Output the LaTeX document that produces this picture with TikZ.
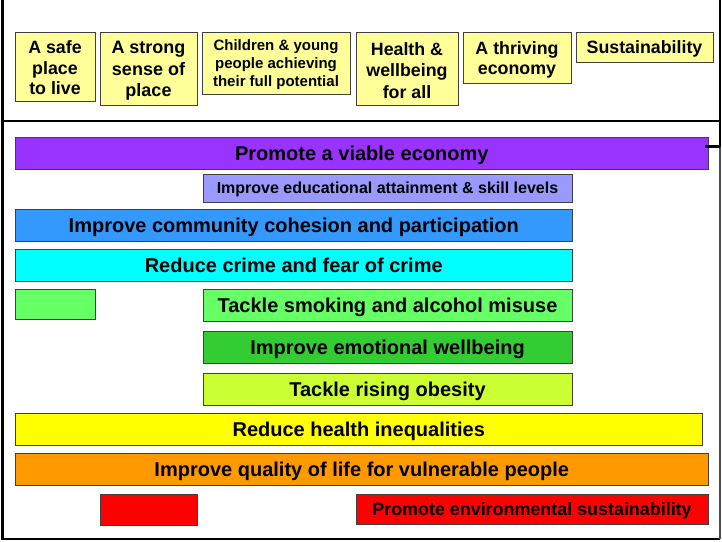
\documentclass[tikz,border=0pt]{standalone}
\usepackage{fontspec}
\setmainfont{Liberation Sans}
\begin{document}
\begin{tikzpicture}[x=1pt,y=-1pt,
  box/.style={draw=black!75, line width=1pt, inner sep=0pt, outer sep=0pt, font=\bfseries},
  topbox/.style={box, fill=cpale},
  toptext/.style={inner sep=0pt, align=center, font=\bfseries\fontsize{17.8}{20.5}\selectfont},
  barbox/.style={box, text height=14.3pt, text depth=0pt, font=\bfseries\fontsize{20}{22}\selectfont},
  frame/.style={line width=2.2pt, black}]
\useasboundingbox (0,0) rectangle (722,541);
\definecolor{cpurple}{HTML}{9933FF}
\definecolor{clav}{HTML}{9999FF}
\definecolor{cblue}{HTML}{3399FF}
\definecolor{ccyan}{HTML}{00FFFF}
\definecolor{clgreen}{HTML}{66FF66}
\definecolor{cgreen}{HTML}{33CC33}
\definecolor{clime}{HTML}{CCFF33}
\definecolor{cyel}{HTML}{FFFF00}
\definecolor{corange}{HTML}{FF9900}
\definecolor{cred}{HTML}{FF0000}
\definecolor{cpale}{HTML}{FFFF99}
% frame
\coordinate (tl) at (2.5,0);
\coordinate (bl) at (2.5,539.3);
\coordinate (br) at (720,539.3);
\coordinate (tr) at (720,0);
\coordinate (stub) at (720,146.5);
\coordinate (dl) at (2.5,121);
\coordinate (dr) at (720,121);
\draw[frame] (tl) -- (bl) -- (br);
\draw[frame] (tr) -- (stub);
\draw[line width=1.6pt, black!70] (stub) -- (br);
\draw[frame, line width=2.6pt] (dl) -- (dr);
% top boxes
\node[topbox, minimum width=80pt, minimum height=69pt] (safe) at (55,66.5) {};
\node[toptext] (safe-t) at ([yshift=-1.5pt]safe.center) {A safe\\place\\to live};
\node[topbox, minimum width=97pt, minimum height=73pt] (strong) at (148.5,68.5) {};
\node[toptext, font=\bfseries\fontsize{18}{21.5}\selectfont] (strong-t) at ([yshift=-2.5pt]strong.center) {A strong\\sense of\\place};
\node[topbox, minimum width=148pt, minimum height=62pt] (child) at (276,63) {};
\node[toptext, font=\bfseries\fontsize{15}{18}\selectfont] (child-t) at ([yshift=-1.5pt]child.center) {Children \& young\\people achieving\\their full potential};
\node[topbox, minimum width=102pt, minimum height=73pt] (health) at (407,68.5) {};
\node[toptext, font=\bfseries\fontsize{17.8}{21.5}\selectfont] (health-t) at ([yshift=-2pt]health.center) {Health \&\\wellbeing\\for all};
\node[topbox, minimum width=108pt, minimum height=51pt] (thrive) at (517,57.5) {};
\node[toptext] (thrive-t) at ([yshift=-2.5pt]thrive.center) {A thriving\\economy};
\node[topbox, minimum width=137pt, minimum height=30pt] (sust) at (644.5,47) {};
\node[toptext] (sust-t) at ([yshift=-2pt]sust.center) {Sustainability};
% bars
\node[barbox, fill=cpurple, minimum width=692.5pt, minimum height=32pt] (econ) at (361.75,153) {Promote a viable economy};
\draw[frame] ([xshift=-3pt]econ.east |- stub) -- (stub);
\node[barbox, fill=clav, minimum width=369pt, minimum height=28pt, text height=11.5pt, font=\bfseries\fontsize{16}{18}\selectfont] (edu) at (387.5,188) {Improve educational attainment \& skill levels};
\node[barbox, fill=cblue, minimum width=556.5pt, minimum height=32pt] (comm) at (293.75,225) {Improve community cohesion and participation};
\node[barbox, fill=ccyan, minimum width=556.5pt, minimum height=32pt] (crime) at (293.75,265) {Reduce crime and fear of crime};
\node[barbox, fill=clgreen, minimum width=79.5pt, minimum height=30pt] (gsmall) at (55.25,304) {};
\node[barbox, fill=clgreen, minimum width=369pt, minimum height=32pt] (smoke) at (387.5,305) {Tackle smoking and alcohol misuse};
\node[barbox, fill=cgreen, minimum width=369pt, minimum height=32pt] (emo) at (387.5,347) {Improve emotional wellbeing};
\node[barbox, fill=clime, minimum width=369pt, minimum height=32pt] (obes) at (387.5,389) {Tackle rising obesity};
\node[barbox, fill=cyel, minimum width=686.5pt, minimum height=32pt] (ineq) at (358.75,429) {Reduce health inequalities};
\node[barbox, fill=corange, minimum width=692.5pt, minimum height=32pt] (vuln) at (361.75,469) {Improve quality of life for vulnerable people};
\node[barbox, fill=cred, minimum width=97pt, minimum height=31pt] (rsmall) at (148.5,509.5) {};
\node[barbox, fill=cred, minimum width=352pt, minimum height=30pt, text height=12.8pt, font=\bfseries\fontsize{17.9}{20}\selectfont] (env) at (532,509) {Promote environmental sustainability};
\end{tikzpicture}
\end{document}
